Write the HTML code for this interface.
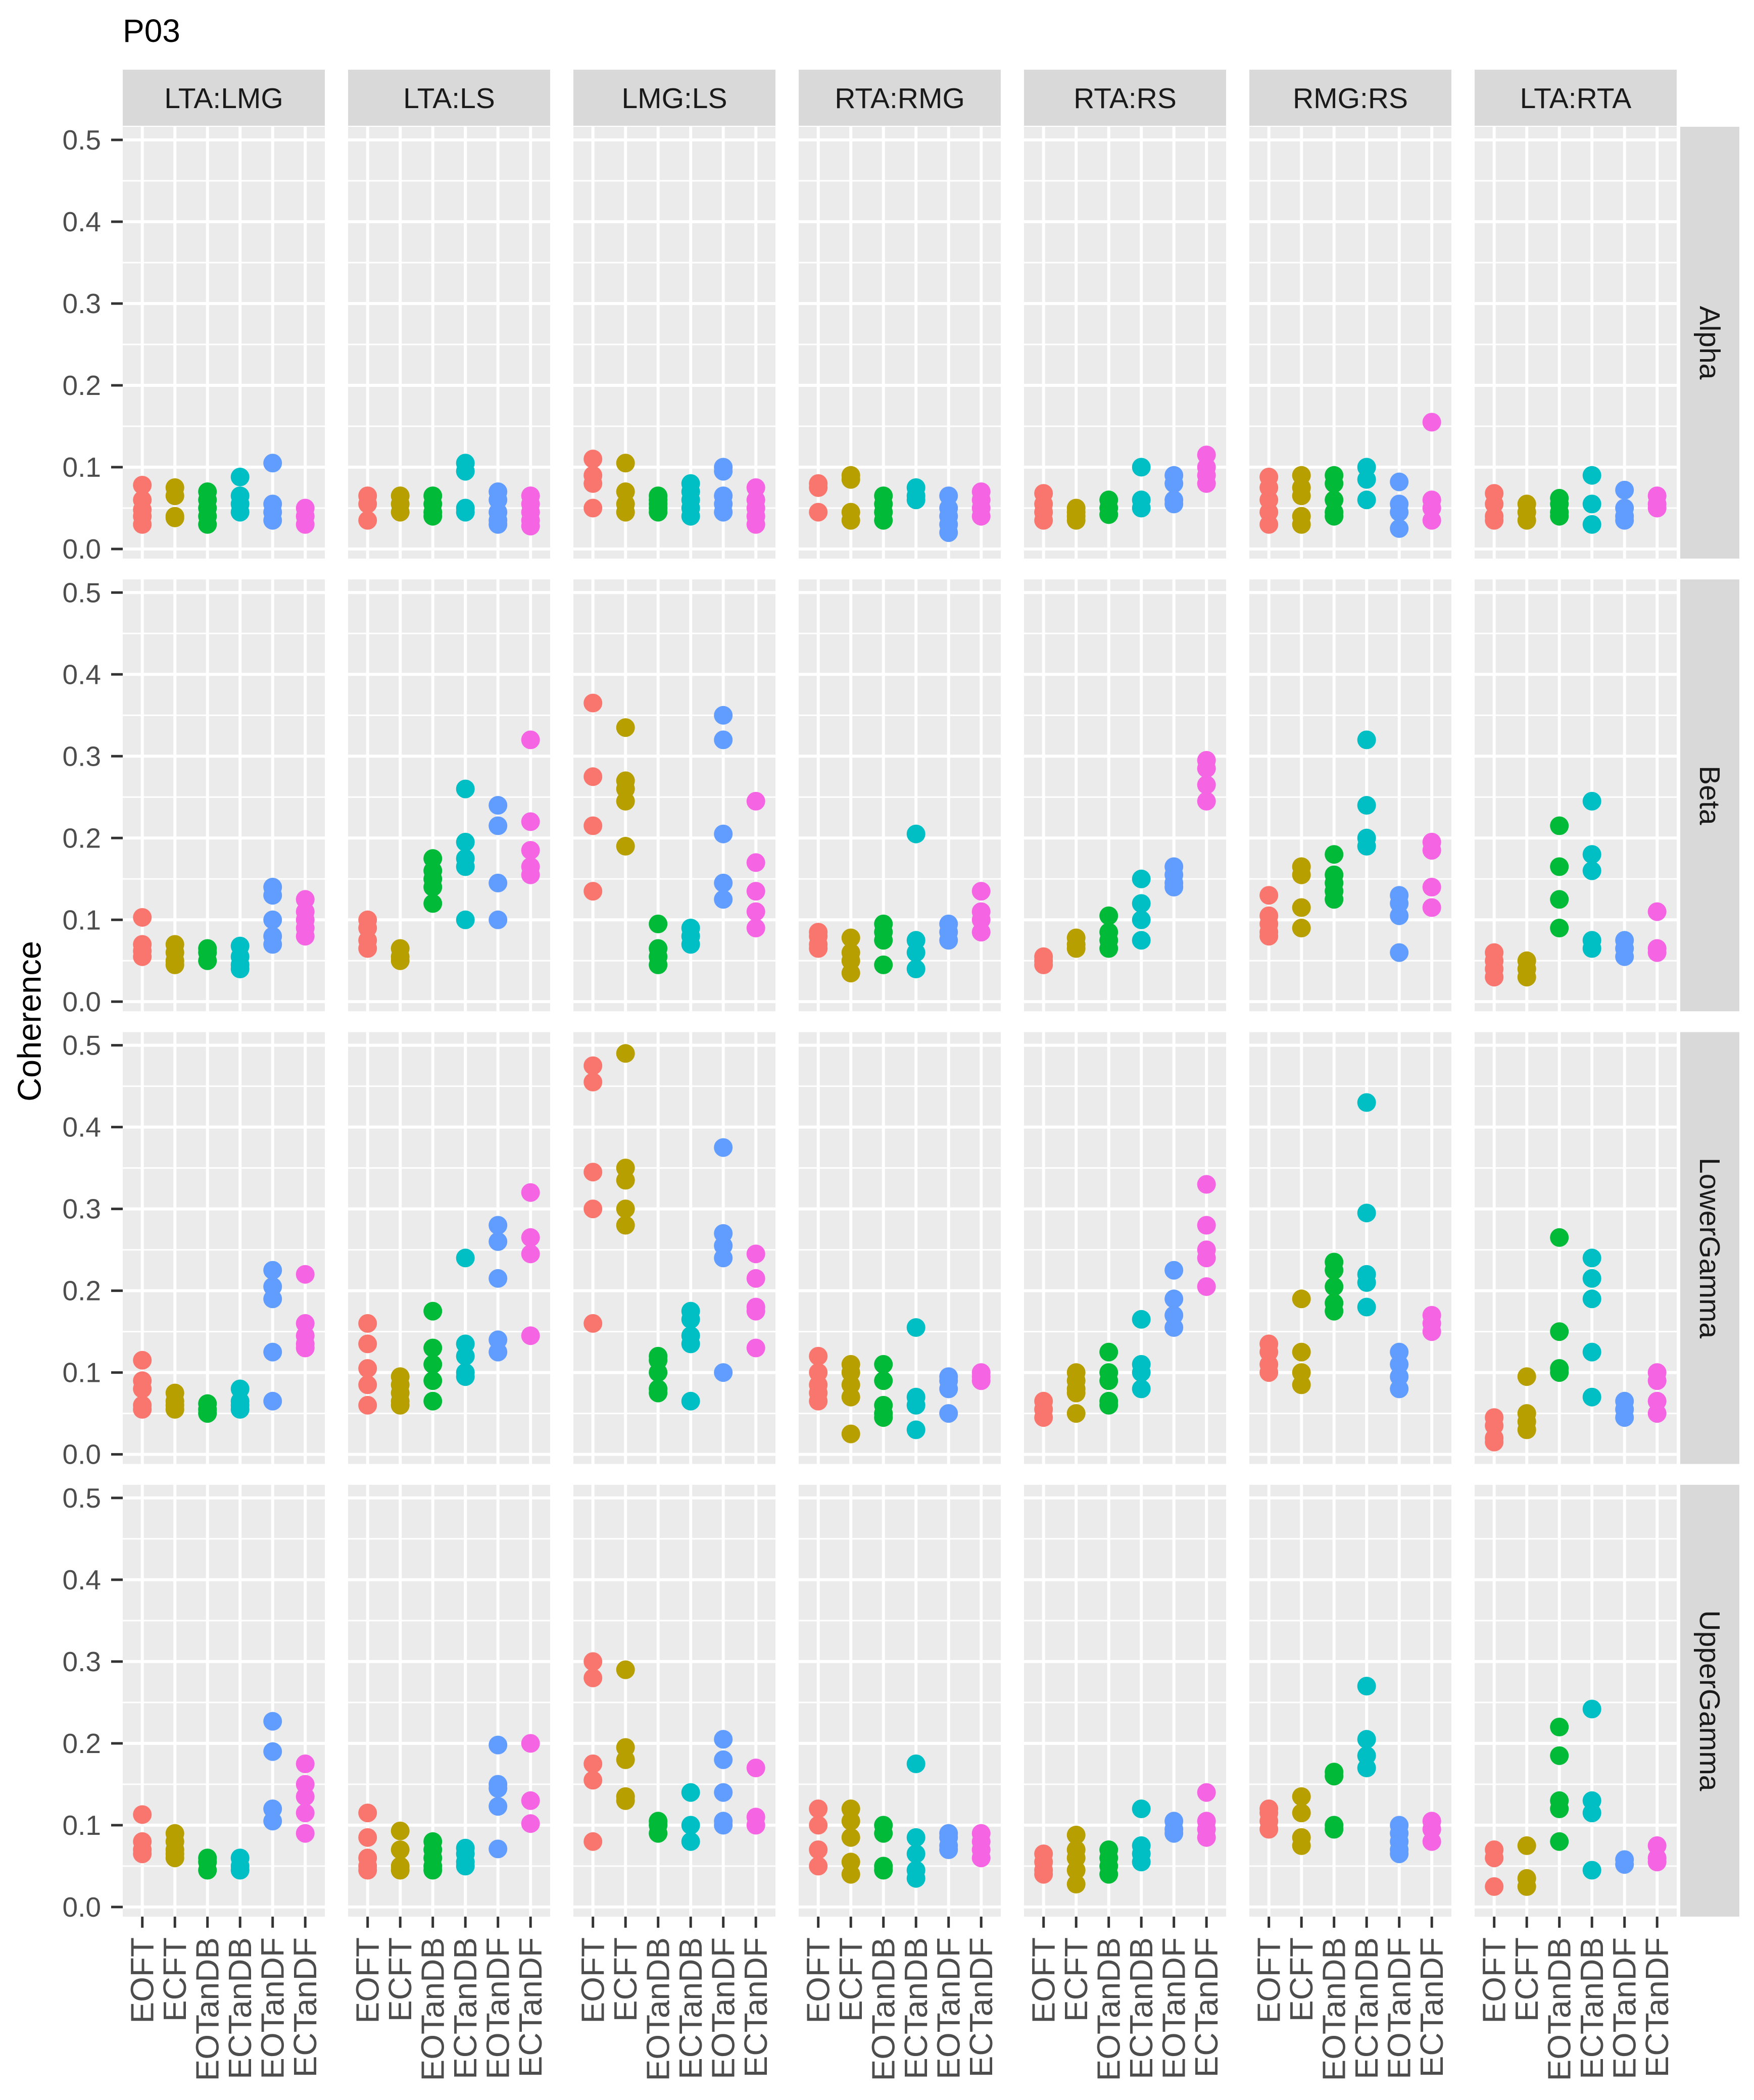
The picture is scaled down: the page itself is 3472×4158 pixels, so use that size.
<!DOCTYPE html>
<html><head><meta charset="utf-8">
<style>
html,body{margin:0;padding:0;background:#fff;}
svg{display:block;font-family:"Liberation Sans",Arial,sans-serif;}
</style></head>
<body>
<svg id="chart" width="3472" height="4158" viewBox="0 0 3472 4158" xmlns="http://www.w3.org/2000/svg">
<rect width="3472" height="4158" fill="#fff"/>
<text x="243" y="83" font-size="64" fill="#000">P03</text>
<text transform="translate(58,2022) rotate(-90)" text-anchor="middle" dominant-baseline="central" font-size="65" fill="#000">Coherence</text>
<g id="plot"></g>
</svg>
<script>
const categories = ["EOFT","ECFT","EOTanDB","ECTanDB","EOTanDF","ECTanDF"];
const pairs = ["LTA:LMG","LTA:LS","LMG:LS","RTA:RMG","RTA:RS","RMG:RS","LTA:RTA"];
const bands = ["Alpha","Beta","LowerGamma","UpperGamma"];
const yTicks = [0,0.1,0.2,0.3,0.4,0.5];
const yTickLabels = ["0.0","0.1","0.2","0.3","0.4","0.5"];
const colors = ["#F8766D","#B79F00","#00BA38","#00BFC4","#619CFF","#F564E3"];

const alphaValues = [
 [[0.078,0.06,0.048,0.04,0.03],[0.075,0.065,0.04,0.038],[0.07,0.06,0.05,0.04,0.03],[0.088,0.065,0.055,0.045],[0.105,0.055,0.045,0.035],[0.05,0.04,0.03]],
 [[0.065,0.055,0.035],[0.065,0.055,0.045],[0.065,0.055,0.045,0.04],[0.105,0.095,0.05,0.045],[0.07,0.06,0.045,0.035,0.03],[0.065,0.055,0.045,0.035,0.028]],
 [[0.11,0.09,0.08,0.05],[0.105,0.07,0.055,0.045],[0.065,0.06,0.055,0.05,0.045],[0.08,0.07,0.06,0.05,0.04],[0.1,0.095,0.065,0.055,0.045],[0.075,0.06,0.05,0.04,0.03]],
 [[0.08,0.075,0.045],[0.09,0.085,0.045,0.035],[0.065,0.055,0.045,0.035],[0.075,0.065,0.06],[0.065,0.05,0.04,0.03,0.02],[0.07,0.06,0.05,0.04]],
 [[0.068,0.055,0.045,0.035],[0.05,0.045,0.04,0.035],[0.06,0.05,0.042],[0.1,0.06,0.05],[0.09,0.08,0.06,0.055],[0.115,0.1,0.09,0.08]],
 [[0.088,0.075,0.06,0.045,0.03],[0.09,0.075,0.065,0.04,0.03],[0.09,0.08,0.06,0.045,0.04],[0.1,0.085,0.06],[0.082,0.055,0.045,0.025],[0.155,0.06,0.05,0.035]],
 [[0.068,0.055,0.04,0.035],[0.055,0.045,0.035],[0.062,0.055,0.045,0.04],[0.09,0.055,0.03],[0.072,0.05,0.04,0.035],[0.065,0.055,0.05]]
];
const betaValues = [
 [[0.103,0.07,0.062,0.055],[0.07,0.06,0.05,0.045],[0.065,0.06,0.05],[0.068,0.055,0.045,0.04],[0.14,0.13,0.1,0.08,0.07],[0.125,0.11,0.1,0.09,0.08]],
 [[0.1,0.09,0.075,0.065],[0.065,0.055,0.05],[0.175,0.16,0.15,0.14,0.12],[0.26,0.195,0.175,0.165,0.1],[0.24,0.215,0.145,0.1],[0.32,0.22,0.185,0.165,0.155]],
 [[0.365,0.275,0.215,0.135],[0.335,0.27,0.26,0.245,0.19],[0.095,0.065,0.055,0.045],[0.09,0.08,0.07],[0.35,0.32,0.205,0.145,0.125],[0.245,0.17,0.135,0.11,0.09]],
 [[0.085,0.08,0.07,0.065],[0.078,0.06,0.05,0.035],[0.095,0.085,0.075,0.045],[0.205,0.075,0.06,0.04],[0.095,0.085,0.075],[0.135,0.11,0.1,0.085]],
 [[0.055,0.05,0.045],[0.078,0.07,0.065],[0.105,0.085,0.075,0.065],[0.15,0.12,0.1,0.075],[0.165,0.155,0.145,0.14],[0.295,0.285,0.265,0.245]],
 [[0.13,0.105,0.095,0.085,0.08],[0.165,0.155,0.115,0.09],[0.18,0.155,0.145,0.135,0.125],[0.32,0.24,0.2,0.19],[0.13,0.12,0.105,0.06],[0.195,0.185,0.14,0.115]],
 [[0.06,0.05,0.04,0.03],[0.05,0.04,0.03],[0.215,0.165,0.125,0.09],[0.245,0.18,0.16,0.075,0.065],[0.075,0.065,0.055],[0.11,0.065,0.06]]
];
const lowerGammaValues = [
 [[0.115,0.09,0.08,0.06,0.055],[0.075,0.065,0.06,0.055],[0.062,0.055,0.05],[0.08,0.065,0.06,0.055],[0.225,0.205,0.19,0.125,0.065],[0.22,0.16,0.145,0.135,0.13]],
 [[0.16,0.135,0.105,0.085,0.06],[0.095,0.085,0.075,0.065,0.06],[0.175,0.13,0.11,0.09,0.065],[0.24,0.135,0.12,0.1,0.095],[0.28,0.26,0.215,0.14,0.125],[0.32,0.265,0.245,0.145]],
 [[0.475,0.455,0.345,0.3,0.16],[0.49,0.35,0.335,0.3,0.28],[0.12,0.115,0.1,0.08,0.075],[0.175,0.165,0.145,0.135,0.065],[0.375,0.27,0.255,0.24,0.1],[0.245,0.215,0.18,0.175,0.13]],
 [[0.12,0.1,0.085,0.075,0.065],[0.11,0.1,0.085,0.07,0.025],[0.11,0.09,0.06,0.05,0.045],[0.155,0.07,0.06,0.03],[0.095,0.09,0.08,0.05],[0.1,0.095,0.09]],
 [[0.065,0.055,0.045],[0.1,0.09,0.08,0.075,0.05],[0.125,0.1,0.09,0.065,0.06],[0.165,0.11,0.1,0.08],[0.225,0.19,0.17,0.155],[0.33,0.28,0.25,0.24,0.205]],
 [[0.135,0.125,0.11,0.1],[0.19,0.125,0.1,0.085],[0.235,0.225,0.205,0.185,0.175],[0.43,0.295,0.22,0.21,0.18],[0.125,0.11,0.095,0.08],[0.17,0.16,0.15]],
 [[0.045,0.035,0.02,0.015],[0.095,0.05,0.04,0.03],[0.265,0.15,0.105,0.1],[0.24,0.215,0.19,0.125,0.07],[0.065,0.055,0.045],[0.1,0.09,0.065,0.05]]
];
const upperGammaValues = [
 [[0.113,0.08,0.07,0.065],[0.09,0.08,0.07,0.065,0.06],[0.06,0.055,0.045],[0.06,0.05,0.045],[0.227,0.19,0.12,0.105],[0.175,0.15,0.135,0.115,0.09]],
 [[0.115,0.085,0.06,0.05,0.045],[0.093,0.07,0.05,0.045],[0.08,0.07,0.06,0.05,0.045],[0.072,0.065,0.055,0.05],[0.198,0.15,0.145,0.123,0.071],[0.2,0.13,0.102]],
 [[0.3,0.28,0.175,0.155,0.08],[0.29,0.195,0.18,0.135,0.13],[0.105,0.1,0.09],[0.14,0.1,0.08],[0.205,0.18,0.14,0.105,0.1],[0.17,0.11,0.1]],
 [[0.12,0.1,0.07,0.05],[0.12,0.105,0.085,0.055,0.04],[0.1,0.09,0.05,0.045],[0.175,0.085,0.065,0.045,0.035],[0.09,0.085,0.075,0.07],[0.09,0.08,0.07,0.06]],
 [[0.065,0.055,0.045,0.04],[0.088,0.07,0.06,0.045,0.028],[0.07,0.06,0.05,0.04],[0.12,0.075,0.065,0.055],[0.105,0.095,0.09],[0.14,0.105,0.095,0.085]],
 [[0.12,0.115,0.105,0.095],[0.135,0.115,0.085,0.075],[0.165,0.16,0.1,0.095],[0.27,0.205,0.185,0.17],[0.1,0.09,0.08,0.07,0.065],[0.105,0.095,0.08]],
 [[0.07,0.06,0.025],[0.075,0.035,0.025],[0.22,0.185,0.13,0.12,0.08],[0.242,0.13,0.115,0.045],[0.058,0.052],[0.075,0.06,0.055]]
];
const allValues = [alphaValues, betaValues, lowerGammaValues, upperGammaValues];

const NS = "http://www.w3.org/2000/svg";
const plot = document.getElementById("plot");
function mk(tag, attrs, parent) {
  const e = document.createElementNS(NS, tag);
  for (const k in attrs) e.setAttribute(k, attrs[k]);
  (parent || plot).appendChild(e);
  return e;
}
const PL = 243, PW = 400, PGAP = 46, PT = 251, PH = 855, RPITCH = 896.3;
const Y0OFF = 836, YSCALE = 1620;
function panelX(c) { return PL + c * (PW + PGAP); }
function panelY(r) { return PT + r * RPITCH; }
function xScale(c, i) { return panelX(c) + 38.7 + i * 64.5; }
function yScale(r, v) { return panelY(r) + Y0OFF - v * YSCALE; }

// column strips
pairs.forEach((p, c) => {
  const s = mk("rect", {x: panelX(c), y: 138, width: PW, height: 111, fill: "#D9D9D9"});
  
  
  const t = mk("text", {x: panelX(c) + PW / 2, y: 195, "text-anchor": "middle", "dominant-baseline": "central", "font-size": 57, fill: "#1A1A1A"});
  
  
  t.textContent = p;
});

bands.forEach((b, r) => {
  const py = panelY(r);
  // row strip
  const s = mk("rect", {x: 3326, y: py, width: 117, height: PH, fill: "#D9D9D9"});
  
  
  const t = mk("text", {transform: "translate(3384," + (py + PH / 2) + ") rotate(90)", "text-anchor": "middle", "dominant-baseline": "central", "font-size": 57, fill: "#1A1A1A"});
  
  
  t.textContent = b;

  // y axis ticks / labels
  yTicks.forEach((v, k) => {
    const y = yScale(r, v);
    const tk = mk("line", {x1: 220, x2: 243, y1: y, y2: y, stroke: "#333", "stroke-width": 5});
    
    
    const tl = mk("text", {x: 200, y: y, "text-anchor": "end", "dominant-baseline": "central", "font-size": 55, fill: "#4D4D4D"});
    
    
    tl.textContent = yTickLabels[k];
  });

  pairs.forEach((p, c) => {
    const px = panelX(c);
    const g = mk("g", {});
    
    
    mk("rect", {x: px, y: py, width: PW, height: PH, fill: "#EBEBEB"}, g);
    for (let k = 0; k < yTicks.length - 1; k++) {
      const ym = yScale(r, (yTicks[k] + yTicks[k + 1]) / 2);
      mk("line", {x1: px, x2: px + PW, y1: ym, y2: ym, stroke: "#fff", "stroke-width": 3}, g);
    }
    yTicks.forEach(v => {
      const y = yScale(r, v);
      mk("line", {x1: px, x2: px + PW, y1: y, y2: y, stroke: "#fff", "stroke-width": 6}, g);
    });
    categories.forEach((cat, i) => {
      const x = xScale(c, i);
      mk("line", {x1: x, x2: x, y1: py, y2: py + PH, stroke: "#fff", "stroke-width": 6}, g);
    });
    const vals = allValues[r][c];
    vals.forEach((grp, i) => {
      grp.forEach(v => {
        const dot = mk("circle", {cx: xScale(c, i), cy: yScale(r, v), r: 18.5, fill: colors[i]}, g);
        
        
      });
    });
  });
});

// x axis ticks and labels (bottom row)
pairs.forEach((p, c) => {
  const by = panelY(3) + PH;
  categories.forEach((cat, i) => {
    const x = xScale(c, i);
    const tk = mk("line", {x1: x, x2: x, y1: by, y2: by + 22, stroke: "#333", "stroke-width": 5});
    
    
    const tl = mk("text", {transform: "translate(" + x + "," + (by + 41) + ") rotate(-90)", "text-anchor": "end", "dominant-baseline": "central", "font-size": 64, fill: "#4D4D4D"});
    
    
    tl.textContent = cat;
  });
});
</script>
</body></html>
